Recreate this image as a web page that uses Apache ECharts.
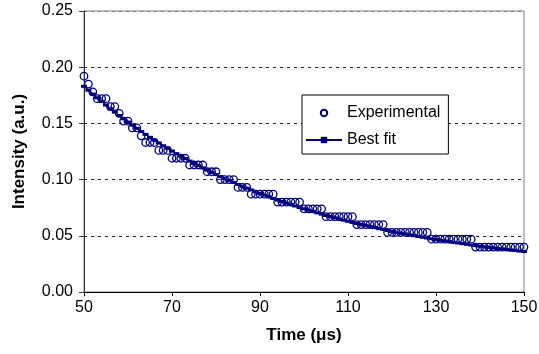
<!DOCTYPE html>
<html>
<head>
<meta charset="utf-8">
<script src="https://cdn.jsdelivr.net/npm/echarts@6/dist/echarts.min.js"></script>
<style>
  html, body { margin: 0; padding: 0; background: #fff; }
  #chart { width: 539px; height: 354px; }
</style>
</head>
<body>
<div id="chart"></div>
<script>
// Time axis (µs), one sample per microsecond
const times = [
  50, 51, 52, 53, 54, 55, 56, 57, 58, 59, 60, 61, 62, 63, 64, 65, 66, 67, 68, 69,
  70, 71, 72, 73, 74, 75, 76, 77, 78, 79, 80, 81, 82, 83, 84, 85, 86, 87, 88, 89,
  90, 91, 92, 93, 94, 95, 96, 97, 98, 99, 100, 101, 102, 103, 104, 105, 106, 107, 108, 109,
  110, 111, 112, 113, 114, 115, 116, 117, 118, 119, 120, 121, 122, 123, 124, 125, 126, 127, 128, 129,
  130, 131, 132, 133, 134, 135, 136, 137, 138, 139, 140, 141, 142, 143, 144, 145, 146, 147, 148, 149, 150
];

// measured intensity (quantized steps)
const experimental = [
  0.192, 0.185, 0.178, 0.172, 0.172, 0.172, 0.165, 0.165, 0.159, 0.152, 0.152, 0.146, 0.146, 0.139, 0.133, 0.133, 0.133, 0.126, 0.126, 0.126,
  0.119, 0.119, 0.119, 0.119, 0.113, 0.113, 0.113, 0.113, 0.107, 0.107, 0.107, 0.100, 0.100, 0.100, 0.100, 0.093, 0.093, 0.093, 0.087, 0.087,
  0.087, 0.087, 0.087, 0.087, 0.080, 0.080, 0.080, 0.080, 0.080, 0.080, 0.074, 0.074, 0.074, 0.074, 0.074, 0.067, 0.067, 0.067, 0.067, 0.067,
  0.067, 0.067, 0.060, 0.060, 0.060, 0.060, 0.060, 0.060, 0.060, 0.053, 0.053, 0.053, 0.053, 0.053, 0.053, 0.053, 0.053, 0.053, 0.053, 0.047,
  0.047, 0.047, 0.047, 0.047, 0.047, 0.047, 0.047, 0.047, 0.047, 0.040, 0.040, 0.040, 0.040, 0.040, 0.040, 0.040, 0.040, 0.040, 0.040, 0.040, 0.040
];

// fitted curve
const bestFit = [
  0.1830, 0.1795, 0.1761, 0.1727, 0.1695, 0.1663, 0.1631, 0.1600, 0.1570, 0.1541, 0.1512, 0.1484, 0.1456, 0.1429, 0.1402, 0.1376, 0.1351, 0.1326, 0.1301, 0.1278,
  0.1254, 0.1231, 0.1209, 0.1187, 0.1165, 0.1144, 0.1124, 0.1104, 0.1084, 0.1064, 0.1045, 0.1027, 0.1009, 0.0991, 0.0974, 0.0957, 0.0940, 0.0924, 0.0908, 0.0892,
  0.0877, 0.0862, 0.0847, 0.0832, 0.0818, 0.0805, 0.0791, 0.0778, 0.0765, 0.0752, 0.0740, 0.0728, 0.0716, 0.0704, 0.0693, 0.0681, 0.0671, 0.0660, 0.0649, 0.0639,
  0.0629, 0.0619, 0.0609, 0.0600, 0.0591, 0.0582, 0.0573, 0.0564, 0.0556, 0.0547, 0.0539, 0.0531, 0.0523, 0.0516, 0.0508, 0.0501, 0.0494, 0.0487, 0.0480, 0.0473,
  0.0467, 0.0460, 0.0454, 0.0448, 0.0441, 0.0436, 0.0430, 0.0424, 0.0418, 0.0413, 0.0408, 0.0402, 0.0397, 0.0392, 0.0387, 0.0383, 0.0378, 0.0373, 0.0369, 0.0364, 0.0360
];

const seriesNames = ['Experimental', 'Best fit'];

const navy = '#000080';
const font = '"Liberation Sans", Arial, sans-serif';

const chart = echarts.init(document.getElementById('chart'));

const option = {
  animation: false,
  backgroundColor: '#fff',
  textStyle: { fontFamily: font, color: '#000' },
  grid: {
    left: 84,
    right: 15,
    top: 11,
    bottom: 62,
    outerBoundsMode: 'none',
    show: true,
    borderColor: '#808080',
    borderWidth: 1,
    backgroundColor: 'transparent'
  },
  legend: {
    data: seriesNames,
    orient: 'vertical',
    left: 302,
    top: 95,
    padding: [10, 8, 6, 3],
    itemGap: 11,
    itemWidth: 36,
    itemHeight: 8,
    borderColor: '#000',
    borderWidth: 1,
    backgroundColor: '#fff',
    textStyle: { fontFamily: font, fontSize: 16, color: '#000' }
  },
  xAxis: {
    type: 'value',
    min: 50,
    max: 150,
    interval: 20,
    name: 'Time (\u03bcs)',
    nameLocation: 'middle',
    nameGap: 35,
    nameTextStyle: { fontFamily: font, fontSize: 17, fontWeight: 'bold', color: '#000' },
    axisLine: { lineStyle: { color: '#000', width: 1 } },
    axisTick: { show: true, length: 4, lineStyle: { color: '#000' } },
    axisLabel: { margin: 8, fontSize: 16, color: '#000', fontFamily: font },
    splitLine: { show: false }
  },
  yAxis: {
    type: 'value',
    min: 0,
    max: 0.25,
    interval: 0.05,
    name: 'Intensity (a.u.)',
    nameLocation: 'middle',
    nameGap: 56,
    nameTextStyle: { fontFamily: font, fontSize: 17, fontWeight: 'bold', color: '#000' },
    axisLine: { show: true, lineStyle: { color: '#333', width: 1 } },
    axisTick: { show: true, length: 5, lineStyle: { color: '#333' } },
    axisLabel: {
      margin: 11,
      fontSize: 16,
      color: '#000',
      fontFamily: font,
      formatter: v => v.toFixed(2)
    },
    splitLine: {
      show: true,
      lineStyle: {
        color: ['rgba(0,0,0,0)', '#222', '#222', '#222', '#222', '#808080'],
        type: [3, 4],
        width: 1
      }
    }
  },
  series: [
    {
      name: 'Experimental',
      type: 'line',
      data: times.map((t, i) => [t, experimental[i]]),
      symbol: 'circle',
      symbolSize: 7.5,
      showSymbol: true,
      lineStyle: { width: 0, opacity: 0 },
      itemStyle: { color: 'rgba(0,0,0,0)', borderColor: navy, borderWidth: 1.3 },
      z: 3
    },
    {
      name: 'Best fit',
      type: 'line',
      data: times.map((t, i) => [t, bestFit[i]]),
      symbol: 'rect',
      symbolSize: [6, 3],
      showSymbol: true,
      lineStyle: { width: 1.5, color: navy },
      itemStyle: { color: navy, borderWidth: 0 },
      z: 2
    }
  ]
};

chart.setOption(option);
</script>
</body>
</html>
